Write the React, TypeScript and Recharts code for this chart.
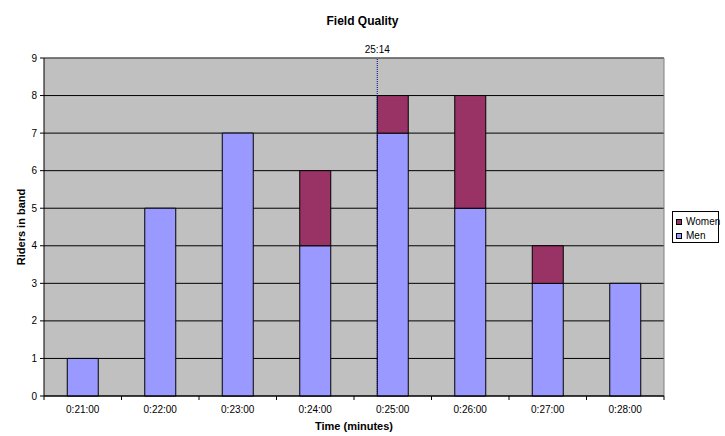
import { BarChart, Bar, XAxis, YAxis, CartesianGrid, ReferenceLine, Label } from "recharts";

const times = ["0:21:00", "0:22:00", "0:23:00", "0:24:00", "0:25:00", "0:26:00", "0:27:00", "0:28:00"];
const minutes = [21, 22, 23, 24, 25, 26, 27, 28];
const men = [1, 5, 7, 4, 7, 5, 3, 3];
const women = [0, 0, 0, 2, 1, 3, 1, 0];
const yTicks = [0, 1, 2, 3, 4, 5, 6, 7, 8, 9];
const bandEdges = [20.5, 28.5];
const markerMinutes = 24.8;
const markerLabel = "25:14";

const MEN = "#9999FF";
const WOMEN = "#993366";
const FONT = "'Liberation Sans', Arial, sans-serif";

const data = times.map((t, i) => ({ time: t, minute: minutes[i], men: men[i], women: women[i] }));

function TimeTick(props: any) {
  const { x, y, payload, index, visibleTicksCount } = props;
  const half = payload.offset ?? 0;
  const top = y - 10;
  return (
    <g>
      <line x1={x - half} x2={x - half} y1={top} y2={top + 4} stroke="#000" />
      {index === visibleTicksCount - 1 && (
        <line x1={x + half} x2={x + half} y1={top} y2={top + 4} stroke="#000" />
      )}
      <text x={x} y={y} dy="0.71em" textAnchor="middle" fontSize={10} fill="#000" fontFamily={FONT}>
        {payload.value}
      </text>
    </g>
  );
}

function YTitle(props: any) {
  const { viewBox } = props;
  const cx = viewBox.x + 21;
  const cy = viewBox.y + viewBox.height / 2;
  return (
    <text x={cx} y={cy} transform={`rotate(-90 ${cx} ${cy})`} textAnchor="middle" dominantBaseline="central"
      fontSize={11} fontWeight="bold" fill="#000" fontFamily={FONT}>
      Riders in band
    </text>
  );
}

export default function App() {
  return (
    <div style={{ position: "absolute", left: 0, top: 0, width: 725, height: 436, background: "#fff", fontFamily: FONT }}>
      <div style={{ position: "absolute", top: 14, left: 0, width: 725, textAlign: "center", fontSize: 12, fontWeight: "bold" }}>
        Field Quality
      </div>
      <BarChart width={725} height={436} data={data} barCategoryGap="30%"
        margin={{ top: 58, right: 61, bottom: 0, left: 0 }}>
        <CartesianGrid vertical={false} stroke="#000" fill="#C0C0C0" fillOpacity={1} />
        <XAxis xAxisId="num" dataKey="minute" type="number" domain={bandEdges} allowDataOverflow
          height={0} axisLine={false} tickLine={false} tick={false} />
        <XAxis dataKey="time" height={40} tickLine={false} tickSize={4} tickMargin={6}
          axisLine={{ stroke: "#000" }} tick={<TimeTick />} interval={0}>
          <Label value="Time (minutes)" position="insideBottom" offset={6}
            style={{ fontSize: 11, fontWeight: "bold", fill: "#000", fontFamily: FONT }} />
        </XAxis>
        <YAxis width={44} domain={[0, 9]} ticks={yTicks} interval={0} tickSize={4} tickMargin={3}
          axisLine={{ stroke: "#000" }} tickLine={{ stroke: "#000" }}
          tick={{ fontSize: 10, fill: "#000", fontFamily: FONT }}>
          <Label content={<YTitle />} />
        </YAxis>
        <ReferenceLine y={9} stroke="#808080" />
        <ReferenceLine xAxisId="num" x={bandEdges[1]} stroke="#808080" />
        <Bar dataKey="men" name="Men" stackId="a" fill={MEN} stroke="#000" strokeWidth={1} isAnimationActive={false} />
        <Bar dataKey="women" name="Women" stackId="a" fill={WOMEN} stroke="#000" strokeWidth={1} isAnimationActive={false} />
        <ReferenceLine xAxisId="num" x={markerMinutes} stroke="#000080" strokeDasharray="1 1">
          <Label value={markerLabel} position="top" offset={5}
            style={{ fontSize: 10, fill: "#000", fontFamily: FONT }} />
        </ReferenceLine>
      </BarChart>
      <div style={{ position: "absolute", left: 672, top: 211, width: 47, height: 32, border: "1px solid #000",
        background: "#fff", fontSize: 10, boxSizing: "border-box", padding: "3px 0 0 3px", lineHeight: "14px" }}>
        {[{ name: "Women", color: WOMEN }, { name: "Men", color: MEN }].map((it) => (
          <div key={it.name} style={{ display: "flex", alignItems: "center" }}>
            <span style={{ display: "inline-block", flexShrink: 0, width: 4, height: 4, background: it.color,
              border: "1px solid #000", marginRight: 4 }} />
            {it.name}
          </div>
        ))}
      </div>
    </div>
  );
}
